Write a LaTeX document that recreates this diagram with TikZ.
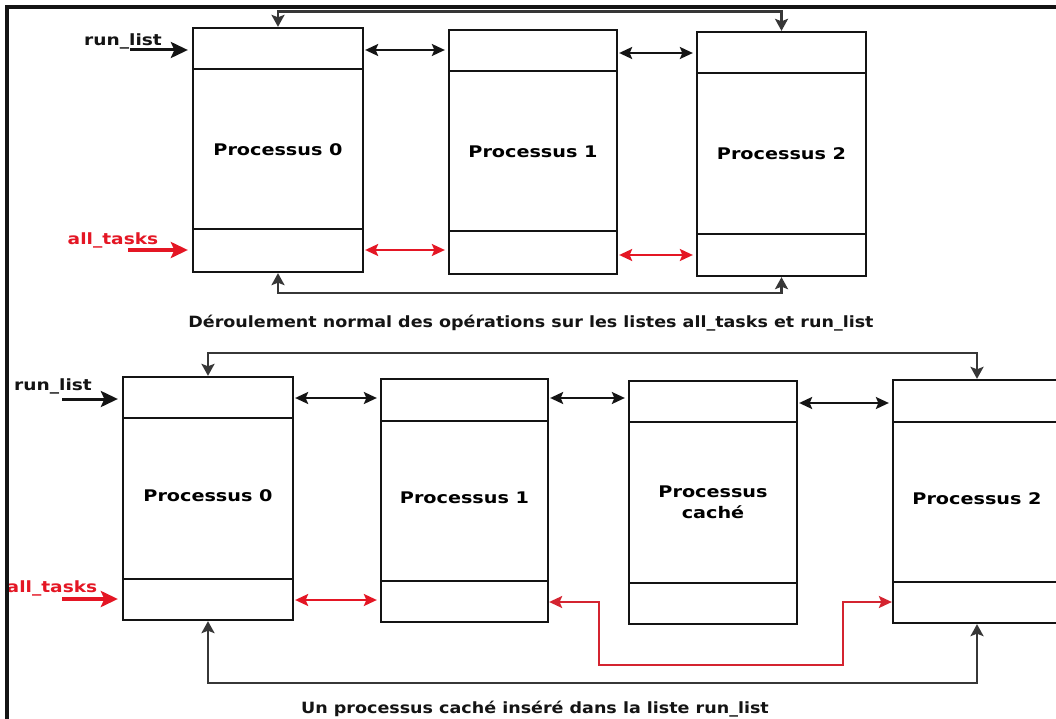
\documentclass[tikz,border=0pt]{standalone}
\usepackage{fontspec}
\setmainfont{DejaVu Sans}
\usepackage{graphicx}
\usetikzlibrary{arrows.meta}

\definecolor{listred}{RGB}{228,22,36}
\definecolor{loopred}{RGB}{212,36,48}
\definecolor{ink}{RGB}{20,20,20}

% wide bold lettering
\newcommand{\wlbl}[2][1.2]{\scalebox{#1}[1]{#2}}

\tikzset{
  proc/.style={draw=ink, line width=2.3pt, inner sep=0pt, align=center,
    font=\bfseries\fontsize{16}{20}\selectfont},
  divider/.style={draw=ink, line width=2.3pt},
  link/.style={draw=ink, line width=2pt,
    {Stealth[length=13pt,width=12pt,inset=2.5pt]}-{Stealth[length=13pt,width=12pt,inset=2.5pt]},
    shorten <=1pt, shorten >=3pt},
  redlink/.style={link, draw=listred, fill=listred},
  loopline/.style={draw=ink!85, line width=2.4pt,
    {Stealth[length=12pt,width=13pt,inset=2.5pt]}-{Stealth[length=12pt,width=13pt,inset=2.5pt]}},
  redloop/.style={draw=loopred, line width=1.8pt,
    {Stealth[length=13pt,width=12pt,inset=2.5pt]}-{Stealth[length=13pt,width=12pt,inset=2.5pt]}},
  entry/.style={draw=ink, line width=3pt, -{Stealth[length=17pt,width=16pt,inset=3.5pt]}, shorten >=4pt},
  redentry/.style={entry, draw=listred, line width=3.6pt},
  tag/.style={inner sep=0pt, font=\bfseries\fontsize{15.5}{18}\selectfont, text=ink},
  redtag/.style={tag, text=listred},
  caption/.style={inner sep=0pt, font=\bfseries\fontsize{15.5}{18}\selectfont, text=ink},
}

% name, x1, y1, x2, y2, first divider, second divider, label
\newcommand{\procbox}[8]{%
  \node[proc, minimum width={(#4-#2)*1pt}, minimum height={(#5-#3)*1pt}]
    (#1) at ({(#2+#4)/2},{(#3+#5)/2}) {#8};
  \draw[divider] (#2,#6) -- (#4,#6) (#2,#7) -- (#4,#7);
}

\begin{document}
\begin{tikzpicture}[x=1pt,y=-1pt]
\useasboundingbox (0,0) rectangle (1056,719);
\clip (0,0) rectangle (1056,719);
\fill[white] (0,0) rectangle (1056,719);

% ---------- normal case ----------
\procbox{T0}{193}{28}{363}{272}{69}{229}{\wlbl{Processus 0}}
\procbox{T1}{449}{30}{617}{274}{71}{231}{\wlbl{Processus 1}}
\procbox{T2}{697}{32}{866}{276}{73}{234}{\wlbl{Processus 2}}

\coordinate (ra) at (0,50);
\coordinate (rb) at (0,53);
\coordinate (rc) at (0,250);
\coordinate (rd) at (0,255);
\coordinate (tl) at (0,11.5);
\coordinate (tb) at (0,293);

\node[tag] (rlA) at (123,41) {\wlbl{run\_list}};
\coordinate (rlAs) at (130,50);
\draw[entry] (rlAs) -- (T0.west |- rlAs);

\node[redtag] (atA) at (113,240) {\wlbl{all\_tasks}};
\coordinate (atAs) at (128,250);
\draw[redentry] (atAs) -- (T0.west |- atAs);

\draw[link] (T0.east |- ra) -- (T1.west |- ra);
\draw[link] (T1.east |- rb) -- (T2.west |- rb);
\draw[redlink] (T0.east |- rc) -- (T1.west |- rc);
\draw[redlink] (T1.east |- rd) -- (T2.west |- rd);

\draw[loopline] (T0.north) -- (T0.north |- tl) -- (T2.north |- tl) -- (T2.north);
\draw[loopline] (T0.south) -- (T0.south |- tb) -- (T2.south |- tb) -- (T2.south);

\node[caption] (capA) at (531,323)
  {\wlbl[1.13]{Déroulement normal des opérations sur les listes all\_tasks et run\_list}};

% ---------- hidden process inserted ----------
\procbox{B0}{123}{377}{293}{620}{418}{579}{\raisebox{5pt}{\wlbl{Processus 0}}}
\procbox{B1}{381}{379}{548}{622}{421}{581}{\raisebox{5pt}{\wlbl{Processus 1}}}
\procbox{BH}{629}{381}{797}{624}{422}{583}{\wlbl{Processus}\\[1pt]\wlbl{caché}}
\procbox{B2}{893}{380}{1061}{623}{422}{582}{\raisebox{5pt}{\wlbl{Processus 2}}}

\coordinate (re) at (0,398);
\coordinate (rf) at (0,403);
\coordinate (rg) at (0,600);
\coordinate (rh) at (0,602);
\coordinate (bl) at (0,353);
\coordinate (bb) at (0,683);
\coordinate (hl) at (599,665);
\coordinate (hr) at (843,665);

\node[tag] (rlB) at (53,386) {\wlbl{run\_list}};
\coordinate (rlBs) at (62,399);
\draw[entry] (rlBs) -- (B0.west |- rlBs);

\node[redtag] (atB) at (52,588) {\wlbl{all\_tasks}};
\coordinate (atBs) at (62,599);
\draw[redentry] (atBs) -- (B0.west |- atBs);

\draw[link] (B0.east |- re) -- (B1.west |- re);
\draw[link] (B1.east |- re) -- (BH.west |- re);
\draw[link] (BH.east |- rf) -- (B2.west |- rf);
\draw[redlink] (B0.east |- rg) -- (B1.west |- rg);

\draw[redloop] (B1.east |- rh) -- (hl |- rh) -- (hl) -- (hr) -- (hr |- rh) -- (B2.west |- rh);

\draw[loopline] (B0.north) -- (B0.north |- bl) -- (B2.north |- bl) -- (B2.north);
\draw[loopline] (B0.south) -- (B0.south |- bb) -- (B2.south |- bb) -- (B2.south);

\node[caption] (capB) at (535,709)
  {\wlbl[1.13]{Un processus caché inséré dans la liste run\_list}};

% frame along the top and left edges
\draw[ink, line width=4pt] (7,719) -- (7,7) -- (1056,7);
\end{tikzpicture}
\end{document}
